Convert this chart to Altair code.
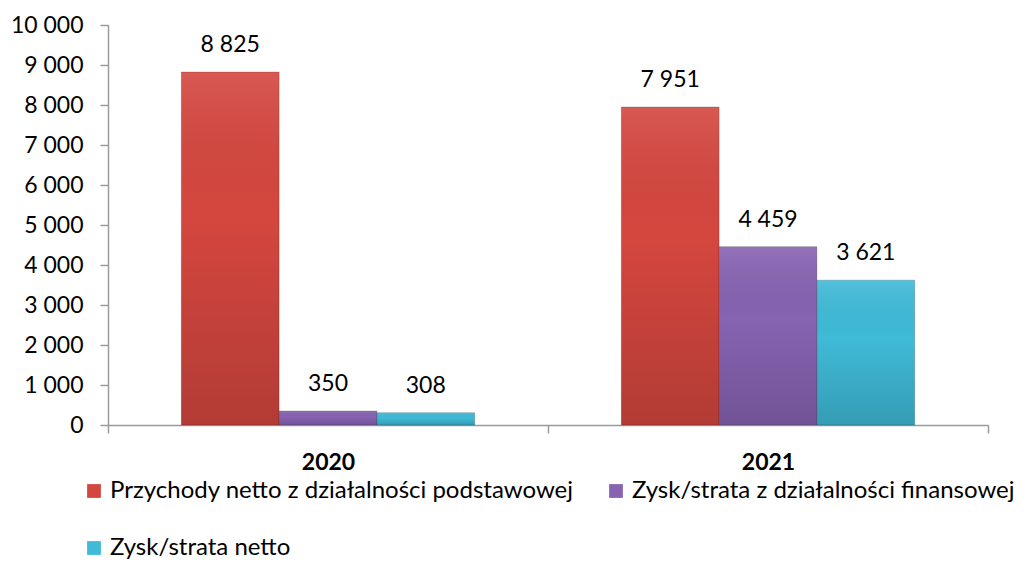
import altair as alt
import pandas as pd

years = ["2020", "2021"]
series = [
    "Przychody netto z działalności podstawowej",
    "Zysk/strata z działalności finansowej",
    "Zysk/strata netto",
]
values_2020 = [8825, 350, 308]
values_2021 = [7951, 4459, 3621]
colors = ["#D4473F", "#8763B2", "#3FBAD7"]

rows = []
for y, vals in zip(years, [values_2020, values_2021]):
    for i, (s, v) in enumerate(zip(series, vals)):
        rows.append({"year": y, "series": s, "order": i, "value": v})
df = pd.DataFrame(rows)

FONT = "Lato"

x_enc = alt.X(
    "year:N",
    title=None,
    scale=alt.Scale(paddingInner=0, paddingOuter=0),
    axis=alt.Axis(
        labelFont=FONT, labelFontSize=23, labelFontWeight="bold", labelColor="#000000",
        tickBand="extent", tickSize=8, tickColor="#9a9a9a", tickWidth=1.5,
        domainColor="#9a9a9a", domainWidth=1.5, labelPadding=18, labelAngle=0,
    ),
)
y_enc = alt.Y(
    "value:Q",
    title=None,
    scale=alt.Scale(domain=[0, 10000]),
    axis=alt.Axis(
        values=list(range(0, 10001, 1000)), format=",.0f", grid=False,
        labelFont=FONT, labelFontSize=23, labelColor="#000000",
        tickSize=8, tickColor="#9a9a9a", tickWidth=1.5,
        domainColor="#9a9a9a", domainWidth=1.5, labelPadding=17,
    ),
)
xoff = alt.XOffset("series:N", sort=series, scale=alt.Scale(paddingInner=0.0, paddingOuter=0.75))

bars = alt.Chart(df).mark_bar(stroke="#00000030", strokeWidth=1).encode(
    x=x_enc,
    y=y_enc,
    xOffset=xoff,
    color=alt.Color(
        "series:N",
        sort=series,
        scale=alt.Scale(domain=series, range=colors),
        legend=alt.Legend(
            title=None, orient="none", legendX=-26, legendY=454, columns=2,
            columnPadding=30, rowPadding=33, symbolType="square", symbolSize=190,
            symbolStrokeWidth=0, labelFont=FONT, labelFontSize=24, labelColor="#000000",
            labelLimit=700, labelOffset=4, direction="horizontal",
        ),
    ),
)

shade = alt.Chart(df).mark_bar(
    color=alt.Gradient(
        gradient="linear",
        stops=[
            alt.GradientStop(color="rgba(255,255,255,0.10)", offset=0),
            alt.GradientStop(color="rgba(0,0,0,0.00)", offset=0.4),
            alt.GradientStop(color="rgba(0,0,0,0.16)", offset=1),
        ],
        x1=0, x2=0, y1=0, y2=1,
    )
).encode(x=x_enc, y=y_enc, xOffset=xoff)

labels = alt.Chart(df).mark_text(
    font=FONT, fontSize=23, color="#000000", baseline="middle", dy=-27
).encode(
    x=x_enc, y=y_enc, xOffset=xoff, text=alt.Text("value:Q", format=",.0f")
)

chart = alt.layer(bars, shade, labels).properties(
    width=880, height=400,
    autosize=alt.AutoSizeParams(type="none"),
    padding={"left": 100, "top": 17, "right": 30, "bottom": 138},
).configure(
    locale={"number": {"decimal": ",", "thousands": " ", "grouping": [3], "currency": ["", " zł"]}},
).configure_view(stroke=None)

chart.save("out.html", embed_options={"renderer": "svg", "actions": False})
